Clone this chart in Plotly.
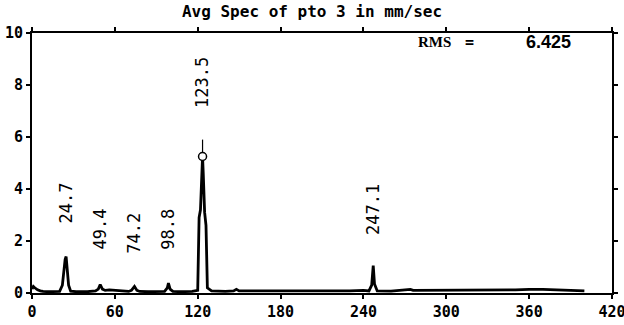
import plotly.graph_objects as go

# Spectrum (frequency in Hz, amplitude in mm/sec)
freq = [0, 1, 2, 4, 6, 8, 12, 16, 20, 22, 23, 24, 24.7, 25.5, 26.5, 28, 32, 40, 44,
        46, 48, 49.4, 51, 53, 56, 60, 64, 70, 72, 74.2, 76, 78, 84, 92, 96, 98,
        98.8, 100, 102, 108, 116, 120, 121, 122, 123, 123.5, 124, 125, 126, 127,
        130, 136, 140, 146, 148, 150, 160, 170, 180, 200, 220, 230, 240, 244,
        246, 247.1, 248, 250, 260, 270, 272, 274, 276, 280, 300, 320, 340, 350,
        360, 365, 370, 380, 390, 400]
amp = [0.15, 0.25, 0.2, 0.12, 0.08, 0.06, 0.05, 0.05, 0.06, 0.3, 0.9, 1.3, 1.4, 0.9, 0.3,
       0.07, 0.05, 0.05, 0.06, 0.08, 0.15, 0.32, 0.15, 0.1, 0.12, 0.1, 0.07, 0.06,
       0.1, 0.25, 0.1, 0.06, 0.05, 0.05, 0.06, 0.2, 0.38, 0.15, 0.06, 0.05, 0.06,
       0.1, 2.9, 3.2, 4.8, 5.25, 4.6, 3.1, 2.6, 0.2, 0.08, 0.06, 0.06, 0.08,
       0.14, 0.08, 0.08, 0.06, 0.08, 0.06, 0.07, 0.08, 0.1, 0.08, 0.3, 1.05, 0.35,
       0.08, 0.07, 0.1, 0.12, 0.14, 0.1, 0.1, 0.1, 0.1, 0.12, 0.12, 0.14, 0.15,
       0.14, 0.12, 0.1, 0.08]

peak_freq = [24.7, 49.4, 74.2, 98.8, 123.5, 247.1]
peak_label = ["24.7", "49.4", "74.2", "98.8", "123.5", "247.1"]
label_y = [3.45, 2.45, 2.3, 2.45, 8.1, 3.2]

cursor_freq = [123.5]
cursor_amp = [5.25]
cursor_top = [5.9]

title_text = "Avg Spec of pto 3 in mm/sec"
rms_label = "RMS"
rms_value = "6.425"

x_ticks = [0, 60, 120, 180, 240, 300, 360, 420]
y_ticks = [0, 2, 4, 6, 8, 10]

FONT = "DejaVu Sans Mono"

fig = go.Figure()
fig.add_trace(go.Scatter(x=freq, y=amp, mode="lines",
                         line=dict(color="black", width=2.8), hoverinfo="skip"))
fig.add_trace(go.Scatter(x=[cursor_freq[0], cursor_freq[0]],
                         y=[cursor_amp[0], cursor_top[0]], mode="lines",
                         line=dict(color="black", width=1.2), hoverinfo="skip"))
fig.add_trace(go.Scatter(x=cursor_freq, y=cursor_amp, mode="markers",
                         marker=dict(symbol="circle", size=8, color="white",
                                     line=dict(color="black", width=1.5)),
                         hoverinfo="skip"))

for f, lab, ly in zip(peak_freq, peak_label, label_y):
    fig.add_annotation(x=f, y=ly, text=lab, showarrow=False, textangle=-90,
                       font=dict(family=FONT, size=17, color="black"))

fig.add_annotation(x=278, y=9.65, text="<b>" + rms_label + "</b>", showarrow=False,
                   xanchor="left", font=dict(family="Liberation Serif", size=15, color="black"))
fig.add_annotation(x=317, y=9.65, text="<b>=</b>", showarrow=False,
                   font=dict(family=FONT, size=15, color="black"))
fig.add_annotation(x=392, y=9.65, text="<b>" + rms_value + "</b>", showarrow=False,
                   xanchor="right", font=dict(family="Liberation Sans Narrow, Liberation Sans", size=18, color="black"))

fig.update_layout(
    width=624, height=325,
    margin=dict(l=32, r=12, t=33, b=32),
    paper_bgcolor="white", plot_bgcolor="white",
    showlegend=False,
    title=dict(text="<b>" + title_text + "</b>", x=0.5, xanchor="center",
               y=0.965, yanchor="middle",
               font=dict(family=FONT, size=16, color="black")),
    font=dict(family=FONT, color="black"),
)
fig.update_xaxes(range=[0, 420], tickvals=x_ticks, ticktext=[str(v) for v in x_ticks],
                 automargin=False, ticklabeloverflow="allow",
                 showgrid=False, zeroline=False, showline=True, linecolor="black",
                 linewidth=2, mirror="allticks", ticks="outside", ticklen=4,
                 tickwidth=1.5, tickcolor="black",
                 tickfont=dict(family=FONT, size=15, color="black", weight="bold"))
fig.update_yaxes(range=[0, 10], tickvals=y_ticks, ticktext=[str(v) for v in y_ticks],
                 automargin=False, ticklabeloverflow="allow",
                 showgrid=False, zeroline=False, showline=True, linecolor="black",
                 linewidth=2, mirror="allticks", ticks="outside", ticklen=4,
                 tickwidth=1.5, tickcolor="black",
                 tickfont=dict(family=FONT, size=15, color="black", weight="bold"))

fig.write_html("out.html")
